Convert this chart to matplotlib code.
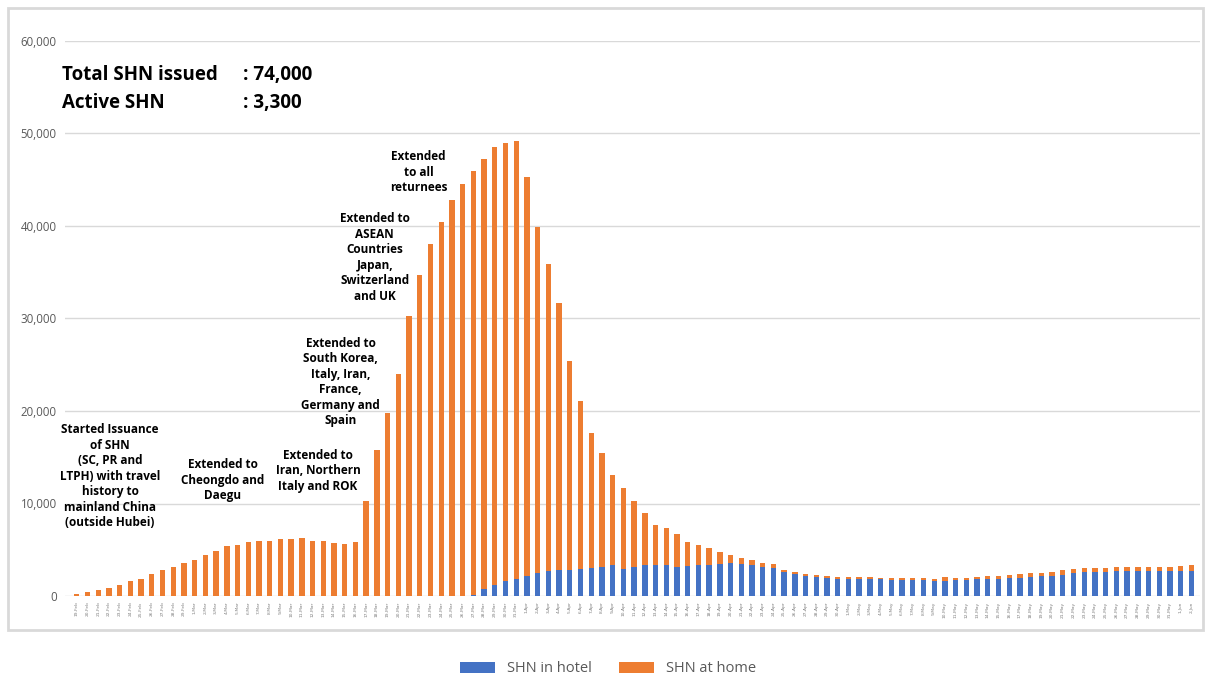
import datetime

import matplotlib
matplotlib.use("Agg")
import matplotlib.pyplot as plt
from matplotlib.patches import Rectangle

# daily SHN counts, 19-Feb to 2-Jun
start_date = datetime.date(2020, 2, 19)
num_days = 105

shn_hotel = [0] * 37 + [
    100, 720, 1190, 1620, 1800, 2160, 2520, 2740, 2810, 2810,
    2880, 3030, 3170, 3310, 2920, 3170, 3310, 3390, 3390, 3100,
    3240, 3330, 3380, 3510, 3530, 3460, 3390, 3170, 2990, 2590,
    2340, 2200, 2090, 1950, 1870, 1840, 1800, 1800, 1800, 1730,
    1730, 1730, 1730, 1590, 1640, 1730, 1730, 1800, 1840, 1840,
    1910, 1980, 2050, 2130, 2200, 2310, 2480, 2560, 2630, 2630,
    2700, 2700, 2670, 2700, 2670, 2670, 2670, 2670,
]

shn_home = [
    200, 400, 650, 900, 1220, 1580, 1800, 2340, 2770, 3130,
    3560, 3920, 4430, 4860, 5360, 5540, 5830, 5900, 5980, 6120,
    6120, 6260, 5980, 5980, 5760, 5650, 5800, 10300, 15780, 19740,
    23960, 30270, 34700, 38080, 40390, 42800, 44530, 45880, 46550, 47380,
    47310, 47420, 43090, 37400, 33150, 28900, 22630, 18200, 14620, 12250,
    9730, 8720, 7100, 5630, 4280, 3960, 3570, 2560, 2150, 1820,
    1250, 940, 650, 500, 360, 430, 220, 220, 180, 220,
    210, 180, 210, 220, 220, 180, 220, 220, 220, 220,
    250, 360, 200, 250, 250, 320, 320, 320, 360, 400,
    390, 390, 500, 400, 470, 400, 400, 470, 400, 430,
    400, 430, 430, 610, 680,
]

y_ticks = [0, 10000, 20000, 30000, 40000, 50000, 60000]

# (text, x index, top value)
notes = [
    ("Started Issuance\nof SHN\n(SC, PR and\nLTPH) with travel\nhistory to\nmainland China\n(outside Hubei)", 3.1, 18700),
    ("Extended to\nCheongdo and\nDaegu", 13.6, 14900),
    ("Extended to\nIran, Northern\nItaly and ROK", 22.5, 15900),
    ("Extended to\nSouth Korea,\nItaly, Iran,\nFrance,\nGermany and\nSpain", 24.6, 28000),
    ("Extended to\nASEAN\nCountries\nJapan,\nSwitzerland\nand UK", 27.8, 41500),
    ("Extended\nto all\nreturnees", 31.9, 48200),
]

BLUE = "#4472C4"
ORANGE = "#ED7D31"
GREY = "#595959"


def main():
    dates = [start_date + datetime.timedelta(days=i) for i in range(num_days)]
    labels = [f"{d.day}-{d.strftime('%b')}" for d in dates]
    xs = list(range(num_days))

    fig = plt.figure(figsize=(12.09, 6.77), dpi=100)
    fig.patch.set_facecolor("white")
    ax = fig.add_axes([65 / 1209, 1 - 596 / 677, (1200 - 65) / 1209, (596 - 41) / 677])

    ax.bar(xs, shn_hotel, width=0.5, color=BLUE, label="SHN in hotel", zorder=3)
    ax.bar(xs, shn_home, width=0.5, bottom=shn_hotel, color=ORANGE, label="SHN at home", zorder=3)

    ax.set_xlim(-1.1, 104.8)
    ax.set_ylim(0, 60000)
    ax.set_yticks(y_ticks)
    ax.set_yticklabels([f"{v:,}" for v in y_ticks], fontsize=8.3, color=GREY, family="Open Sans")
    ax.set_xticks(xs)
    ax.set_xticklabels(labels, rotation=90, fontsize=3.2, color="#7f7f7f")
    ax.tick_params(axis="both", length=0)
    ax.tick_params(axis="y", pad=6)
    ax.tick_params(axis="x", pad=4)
    ax.grid(axis="y", color="#d9d9d9", linewidth=1, zorder=0)
    for side in ["top", "right", "left", "bottom"]:
        ax.spines[side].set_visible(False)

    # headline numbers
    for label, value, y in [("Total SHN issued", ": 74,000", 56300), ("Active SHN", ": 3,300", 53300)]:
        ax.text(-1.35, y, label, fontsize=13.5, fontweight="bold", family="Open Sans", va="center")
        ax.text(15.5, y, value, fontsize=13.5, fontweight="bold", family="Open Sans", va="center")

    # milestone notes
    for text, x, y in notes:
        ax.text(x, y, text, ha="center", va="top", fontsize=8.5, fontweight="bold",
                family="Open Sans", linespacing=1.25, zorder=4)

    # outer frame
    fig.patches.append(Rectangle((8 / 1209, 1 - 630 / 677), (1203 - 8) / 1209, (630 - 8) / 677,
                                 transform=fig.transFigure, fill=False, edgecolor="#d9d9d9", linewidth=2))

    fig.legend(loc="center", bbox_to_anchor=(0.503, 1 - 669 / 677), ncol=2, frameon=False,
               prop={"family": "Open Sans", "size": 10.5}, labelcolor=GREY,
               handlelength=2.4, handleheight=0.75, handletextpad=0.8, columnspacing=1.9)

    fig.savefig("out.png", dpi=100, facecolor="white")


if __name__ == '__main__':
    main()
